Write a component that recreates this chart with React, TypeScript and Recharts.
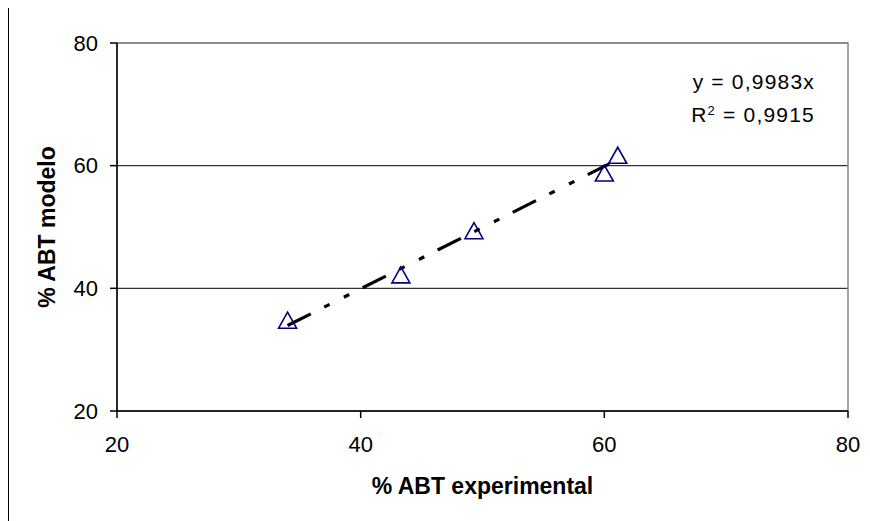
import React from 'react';
import {
  ScatterChart,
  Scatter,
  XAxis,
  YAxis,
  CartesianGrid,
  ReferenceLine,
  ReferenceArea,
} from 'recharts';

// % ABT experimental (x) vs % ABT modelo (y)
const expValues = [34.0, 43.3, 49.3, 60.0, 61.1];
const modelValues = [34.8, 42.2, 49.4, 58.8, 61.7];
const axisTicks = [20, 40, 60, 80];

// linear trend through origin, y = 0,9983x (ends)
const trendStart = { x: 34.0, y: 33.94 };
const trendEnd = { x: 60.4, y: 60.3 };

const equationText = 'y = 0,9983x';
const r2Value = '0,9915';

const points = expValues.map((x, i) => ({ x, y: modelValues[i] }));

const FONT = '"Liberation Sans", Arial, sans-serif';

const Triangle = (props: any) => {
  const { cx, cy } = props;
  if (cx == null || cy == null) return <g />;
  const w = 18;
  const h = 16;
  const d = `M${cx},${cy - h / 2} L${cx + w / 2},${cy + h / 2} L${cx - w / 2},${cy + h / 2} Z`;
  return <path d={d} fill="none" stroke="#000080" strokeWidth={1.6} strokeLinejoin="miter" />;
};

export default function App() {
  return (
    // cancel the body margin so the page is exactly the 870x521 picture
    <div style={{ position: 'relative', width: 870, height: 521, margin: '-8px 0 0 -8px', overflow: 'hidden', background: '#fff' }}>
      <div style={{ position: 'absolute', left: 0, top: 0 }}>
        <ScatterChart
          width={870}
          height={521}
          margin={{ top: 43, right: 22, left: 47, bottom: 50 }}
          style={{ fontFamily: FONT }}
        >
          <CartesianGrid vertical={false} stroke="#333" strokeWidth={1.2} />
          <ReferenceArea x1={20} x2={80} y1={20} y2={80} fill="none" stroke="#888" strokeWidth={1.5} ifOverflow="visible" />
          <XAxis
            type="number"
            dataKey="x"
            domain={[20, 80]}
            ticks={axisTicks}
            allowDataOverflow
            height={60}
            stroke="#000"
            strokeWidth={1.5}
            tickSize={7}
            tickMargin={18}
            fontSize={22}
            tick={{ fill: '#000', fontSize: 22, fontFamily: FONT }}
            label={{
              value: '% ABT experimental',
              position: 'bottom',
              offset: 7,
              fill: '#000',
              fontSize: 23,
              fontWeight: 'bold',
              fontFamily: FONT,
            }}
          />
          <YAxis
            type="number"
            dataKey="y"
            domain={[20, 80]}
            ticks={axisTicks}
            allowDataOverflow
            width={70}
            stroke="#000"
            strokeWidth={1.5}
            tickSize={7}
            tickMargin={12}
            fontSize={22}
            tick={{ fill: '#000', fontSize: 22, fontFamily: FONT }}
            label={{
              value: '% ABT modelo',
              angle: -90,
              position: 'insideLeft',
              offset: 0,
              fill: '#000',
              fontSize: 23,
              fontWeight: 'bold',
              fontFamily: FONT,
              style: { textAnchor: 'middle' },
            }}
          />
          <ReferenceLine
            segment={[trendStart, trendEnd]}
            stroke="#000"
            strokeWidth={3.2}
            strokeDasharray="26 15 6 16 6 15"
            ifOverflow="visible"
          />
          <Scatter data={points} shape={<Triangle />} isAnimationActive={false} />
        </ScatterChart>
      </div>
      {/* outer chart frame: only its left and top edges fall inside the picture */}
      <svg
        width={870}
        height={521}
        style={{ position: 'absolute', left: 0, top: 0, pointerEvents: 'none' }}
      >
        <path d="M8,521 V5.5 H870" fill="none" stroke="#000" strokeWidth={2} />
      </svg>
      <div
        style={{
          position: 'absolute',
          left: 10,
          top: 65,
          width: 805,
          textAlign: 'right',
          fontFamily: FONT,
          fontSize: 21,
          letterSpacing: 1.2,
          lineHeight: '33px',
          color: '#000',
        }}
      >
        <div>{equationText}</div>
        <div>
          R<sup style={{ fontSize: '0.62em', lineHeight: 0, verticalAlign: '0.55em' }}>2</sup> = {r2Value}
        </div>
      </div>
    </div>
  );
}
